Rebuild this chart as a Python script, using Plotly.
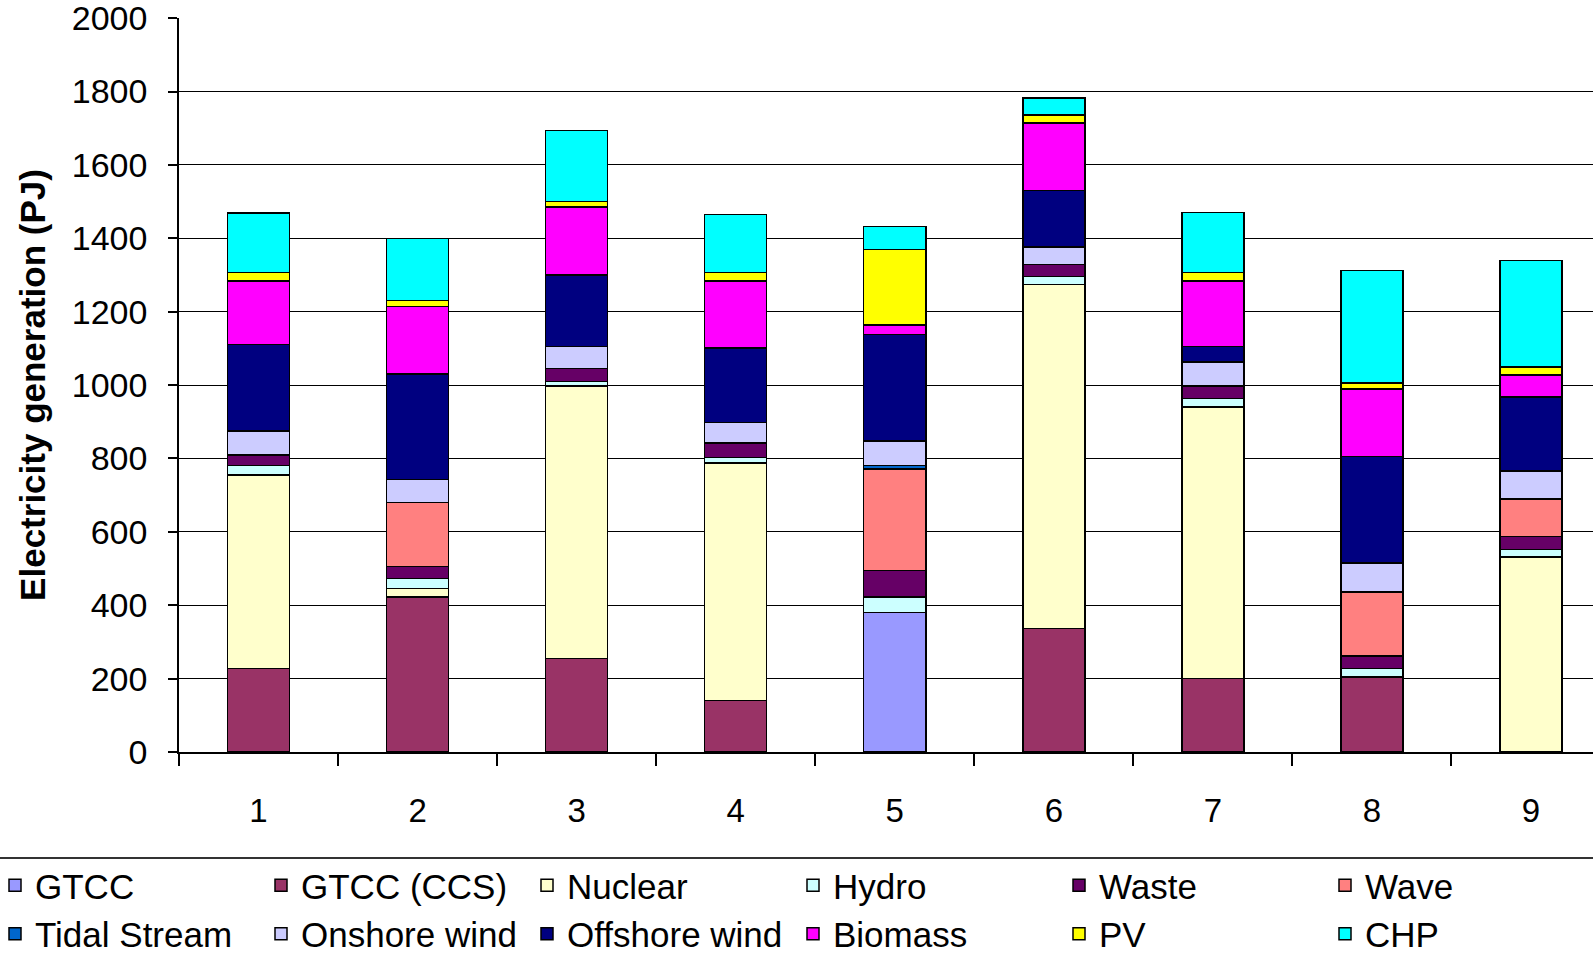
import plotly.graph_objects as go

categories = [1, 2, 3, 4, 5, 6, 7, 8, 9]
tick_labels = ["1", "2", "3", "4", "5", "6", "7", "8", "9"]

gtcc = [0, 0, 0, 0, 380, 0, 0, 0, 0]
gtcc_ccs = [227, 422, 255, 141, 0, 337, 201, 205, 0]
nuclear = [528, 23, 742, 647, 0, 937, 739, 0, 532]
hydro = [26, 28, 13, 15, 42, 22, 24, 22, 20]
waste = [28, 33, 35, 39, 73, 33, 33, 34, 35]
wave = [0, 174, 0, 0, 277, 0, 0, 175, 103]
tidal = [0, 0, 0, 0, 9, 0, 0, 0, 0]
onshore = [66, 63, 60, 56, 66, 47, 66, 79, 76]
offshore = [236, 287, 195, 203, 291, 155, 42, 290, 202]
biomass = [173, 184, 185, 183, 26, 184, 179, 185, 59]
pv = [23, 16, 16, 23, 206, 21, 23, 16, 22]
chp = [162, 169, 193, 158, 62, 46, 164, 306, 291]

series = [
    ("GTCC", gtcc, "#9999FF"),
    ("GTCC (CCS)", gtcc_ccs, "#993366"),
    ("Nuclear", nuclear, "#FFFFCC"),
    ("Hydro", hydro, "#CCFFFF"),
    ("Waste", waste, "#660066"),
    ("Wave", wave, "#FF8080"),
    ("Tidal Stream", tidal, "#0066CC"),
    ("Onshore wind", onshore, "#CCCCFF"),
    ("Offshore wind", offshore, "#000080"),
    ("Biomass", biomass, "#FF00FF"),
    ("PV", pv, "#FFFF00"),
    ("CHP", chp, "#00FFFF"),
]

FONT = "Liberation Sans, Arial, sans-serif"

fig = go.Figure()
for name, vals, color in series:
    fig.add_trace(go.Bar(
        x=categories, y=vals, name=name, width=0.39,
        marker=dict(color=color, line=dict(color="black", width=1.5)),
    ))

W, H = 1593, 960
L, R, T, B = 179, 0, 18, 208
pw = W - L - R
ph = H - T - B

fig.update_layout(
    width=W, height=H,
    barmode="stack",
    margin=dict(l=L, r=R, t=T, b=B, pad=0, autoexpand=False),
    plot_bgcolor="white", paper_bgcolor="white",
    font=dict(family=FONT, color="black", size=33),
    showlegend=True,
    legend=dict(
        orientation="h", x=-(L + 5) / pw, xanchor="left",
        y=(0 - 104) / ph, yanchor="top",
        font=dict(family=FONT, size=35, color="black"),
        entrywidth=221, traceorder="normal",
        bgcolor="rgba(0,0,0,0)",
    ),
    xaxis=dict(
        range=[0.5, 9.39], tickmode="array", tickvals=categories, ticktext=tick_labels,
        ticks="", showline=True, linecolor="black", linewidth=1.5,
        showgrid=False, zeroline=False, automargin=False,
        tickfont=dict(family=FONT, size=33, color="black"),
        ticklabelstandoff=29,
        minor=dict(tickvals=[0.5 + i for i in range(9)], ticks="outside",
                   ticklen=12, tickcolor="black", tickwidth=1.5, showgrid=False),
    ),
    yaxis=dict(
        range=[0, 2000.5], tickmode="array", tickvals=list(range(0, 2001, 200)),
        showgrid=True, gridcolor="black", gridwidth=1.2,
        showline=True, linecolor="black", linewidth=1.5,
        ticks="outside", ticklen=9, tickcolor="black", tickwidth=1.5,
        zeroline=False, automargin=False,
        tickfont=dict(family=FONT, size=34, color="black"),
        ticklabelstandoff=14, ticklabeloverflow="allow",
        title=dict(text="Electricity generation (PJ)",
                   font=dict(family=FONT, size=35, color="black", weight="bold"),
                   standoff=16),
    ),
    shapes=[dict(type="line", xref="paper", yref="paper",
                 x0=-L / pw, x1=1, y0=-106 / ph, y1=-106 / ph,
                 line=dict(color="#333333", width=2))],
)

fig.write_html("out.html", config={"displayModeBar": False},
               post_script="document.body.style.margin='0';document.body.style.overflow='hidden';")
